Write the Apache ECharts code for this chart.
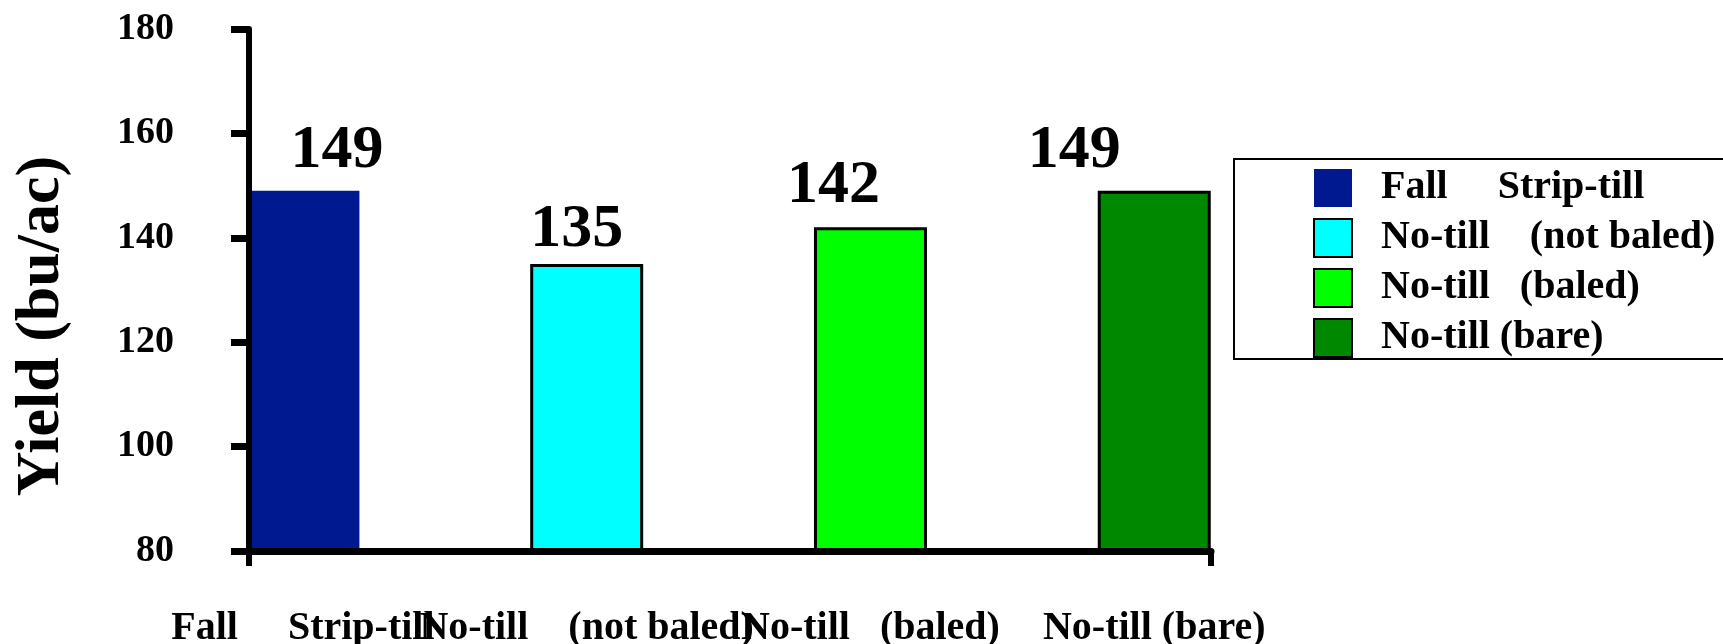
<!DOCTYPE html>
<html>
<head>
<meta charset="utf-8">
<script src="https://cdn.jsdelivr.net/npm/echarts@6/dist/echarts.min.js"></script>
<style>
html,body{margin:0;padding:0;background:#fff;}
#chart{width:1723px;height:644px;}
</style>
</head>
<body>
<div id="chart"></div>
<script>
// ---- data ----
const categories = ['Fall     Strip-till', 'No-till    (not baled)', 'No-till   (baled)', 'No-till (bare)'];
const yields = [149, 135, 142, 149];
const yMin = 80, yMax = 180, yStep = 20;

// ---- styles ----
const barColors = ['#001890', '#00FFFF', '#00FF00', '#008800'];
const barBorders = [0, 3, 3, 3];
const labelOffsets = [[34, -4], [-10, 2], [-37, -5], [-80, -4]];
const FONT = "'Liberation Serif', 'Times New Roman', Times, serif";
const xMin = -0.19, xMax = 3.20;

const chart = echarts.init(document.getElementById('chart'), null, {renderer: 'canvas'});

const series = categories.map((name, i) => ({
  type: 'bar',
  name: name,
  xAxisIndex: 0,
  data: [[i, yields[i]]],
  barWidth: 113,
  barGap: '-100%',
  itemStyle: {
    color: barColors[i],
    borderColor: '#000',
    borderWidth: barBorders[i]
  },
  label: {
    show: true,
    position: 'top',
    distance: 5,
    offset: labelOffsets[i],
    formatter: (p) => String(p.value[1]),
    fontFamily: FONT,
    fontWeight: 'bold',
    fontSize: 62,
    color: '#000'
  }
}));

const catLabelStyle = {
  show: true,
  showMinLabel: true,
  showMaxLabel: true,
  hideOverlap: false,
  formatter: (v) => categories[Math.round(v)],
  margin: 58,
  fontFamily: FONT,
  fontWeight: 'bold',
  fontSize: 40,
  color: '#000'
};

chart.setOption({
  backgroundColor: '#fff',
  animation: false,
  grid: {left: 249, right: 512, top: 29, bottom: 93, containLabel: false, outerBoundsMode: 'none'},
  legend: {
    orient: 'vertical',
    left: 1234,
    top: 159,
    icon: 'rect',
    itemWidth: 38,
    itemHeight: 38,
    itemGap: 10,
    padding: [9, 40, 1, 79],
    borderColor: '#000',
    borderWidth: 2,
    borderRadius: 0,
    selectedMode: false,
    data: categories,
    textStyle: {
      fontFamily: FONT,
      fontWeight: 'bold',
      fontSize: 40,
      color: '#000',
      lineHeight: 38,
      padding: [0, 0, 0, 24]
    }
  },
  xAxis: [{
    type: 'value',
    position: 'bottom',
    min: xMin,
    max: xMax,
    z: 5,
    splitLine: {show: false},
    axisLine: {show: true, onZero: false, lineStyle: {color: '#000', width: 7}},
    axisTick: {show: true, customValues: [xMin, xMax], length: 15, lineStyle: {color: '#000', width: 6}},
    axisLabel: Object.assign({customValues: [0, 2]}, catLabelStyle)
  }, {
    type: 'value',
    position: 'bottom',
    offset: 0,
    min: xMin,
    max: xMax,
    z: 5,
    splitLine: {show: false},
    axisLine: {show: false, onZero: false},
    axisTick: {show: false},
    axisLabel: Object.assign({customValues: [1, 3]}, catLabelStyle)
  }],
  yAxis: {
    type: 'value',
    min: yMin,
    max: yMax,
    interval: yStep,
    z: 5,
    splitLine: {show: false},
    axisLine: {show: true, onZero: false, lineStyle: {color: '#000', width: 6}},
    axisTick: {show: true, length: 18, lineStyle: {color: '#000', width: 7}},
    axisLabel: {
      margin: 75,
      fontFamily: FONT,
      fontWeight: 'bold',
      fontSize: 38,
      color: '#000'
    },
    name: 'Yield (bu/ac)',
    nameLocation: 'middle',
    nameGap: 176,
    nameTextStyle: {
      fontFamily: FONT,
      fontWeight: 'bold',
      fontSize: 62,
      color: '#000',
      padding: [0, 72, 0, 0]
    }
  },
  series: series
});
</script>
</body>
</html>
